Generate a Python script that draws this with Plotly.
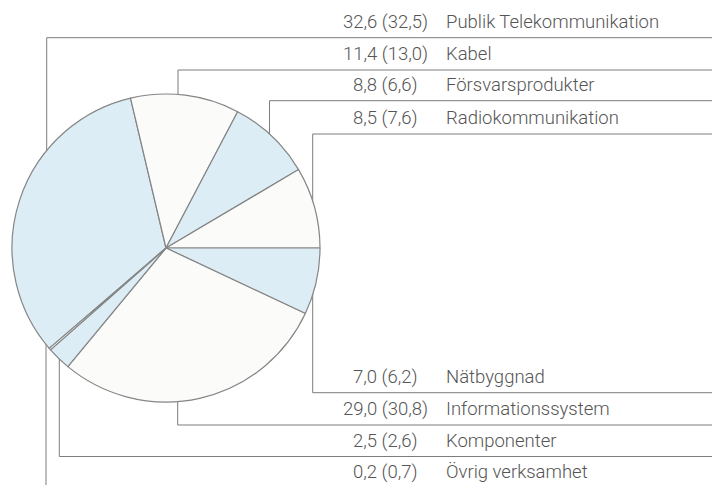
import plotly.graph_objects as go

# ---- data ----
names = ["Publik Telekommunikation", "Kabel", "Försvarsprodukter", "Radiokommunikation",
         "Nätbyggnad", "Informationssystem", "Komponenter", "Övrig verksamhet"]
share_now = [32.6, 11.4, 8.8, 8.5, 7.0, 29.0, 2.5, 0.2]
share_prev = [32.5, 13.0, 6.6, 7.6, 6.2, 30.8, 2.6, 0.7]

# ---- layout constants (pixels) ----
W, H = 712, 485
CX, CY, R = 166, 248, 154
BLUE, WHITE = "#dcedf5", "#fbfbfa"
slice_colors = [BLUE, WHITE, BLUE, WHITE, BLUE, WHITE, BLUE, WHITE]
leader_x = [46.7, 178, 269.5, 312.7, 312.7, 177.7, 59.3, 46]
line_y = [37.7, 70.0, 100.7, 134.0, 392.7, 425.0, 456.5, 488.0]
TEXT_OFFSET = 16
NUM_X, NAME_X = 385, 444
LINE_COLOR = "#7d7d7d"
TEXT_COLOR = "#555555"
FONT = dict(family="Roboto", size=18.5, color=TEXT_COLOR, weight=300)

def fmt(v):
    return f"{v:.1f}".replace(".", ",")

# rotation so slices start where the reference has them
total = sum(share_now)
deg_before_net = sum(share_now[:4]) / total * 360
rotation = 90 - deg_before_net

fig = go.Figure()
fig.add_trace(go.Pie(
    labels=names, values=share_now, sort=False, direction="clockwise",
    rotation=rotation, textinfo="none", hoverinfo="label+value",
    marker=dict(colors=slice_colors, line=dict(color="#858585", width=1.2)),
    domain=dict(x=[(CX - R) / W, (CX + R) / W], y=[1 - (CY + R) / H, 1 - (CY - R) / H]),
    showlegend=False,
))

shapes = []
annotations = []
for i, (nm, a, b) in enumerate(zip(names, share_now, share_prev)):
    lx, ly = leader_x[i], line_y[i]
    # vertical leader (hidden behind the pie) and horizontal rule
    shapes.append(dict(type="line", xref="x", yref="y", x0=lx, x1=lx, y0=ly, y1=CY,
                       line=dict(color=LINE_COLOR, width=1), layer="below"))
    shapes.append(dict(type="line", xref="x", yref="y", x0=lx, x1=W + 2, y0=ly, y1=ly,
                       line=dict(color=LINE_COLOR, width=1), layer="below"))
    ty = ly - TEXT_OFFSET
    annotations.append(dict(x=NUM_X, y=ty, xref="x", yref="y", text=f"{fmt(a)} ({fmt(b)})",
                            showarrow=False, xanchor="center", yanchor="middle", font=FONT))
    annotations.append(dict(x=NAME_X, y=ty, xref="x", yref="y", text=nm,
                            showarrow=False, xanchor="left", yanchor="middle", font=FONT))

fig.update_layout(
    width=W, height=H, margin=dict(l=0, r=0, t=0, b=0),
    paper_bgcolor="white", plot_bgcolor="rgba(0,0,0,0)",
    xaxis=dict(range=[0, W], visible=False, fixedrange=True),
    yaxis=dict(range=[H, 0], visible=False, fixedrange=True),
    shapes=shapes, annotations=annotations,
)
fig.write_html("out.html", config={"displayModeBar": False},
               post_script="document.body.style.margin='0';document.body.style.overflow='hidden';")
